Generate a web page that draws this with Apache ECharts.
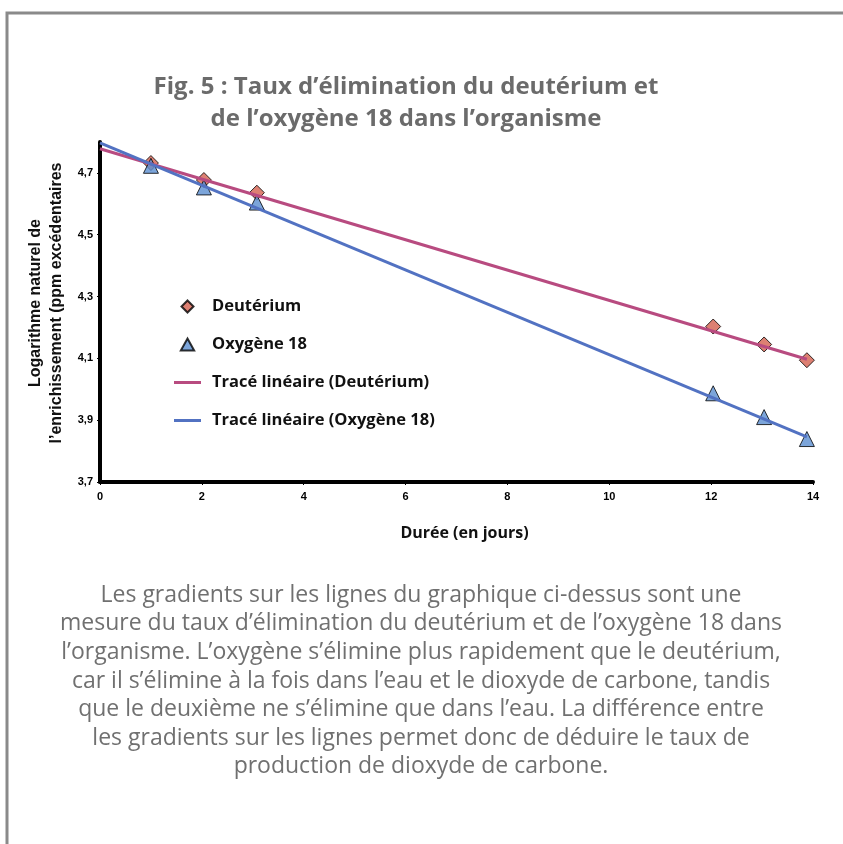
<!DOCTYPE html>
<html>
<head>
<meta charset="utf-8">
<script src="https://cdn.jsdelivr.net/npm/echarts@6/dist/echarts.min.js"></script>
<style>
html,body{margin:0;padding:0;background:#fff;}
#chart{width:843px;height:844px;}
</style>
</head>
<body>
<div id="chart"></div>
<script>
// ---- data ----
const days = [1.0, 2.04, 3.08, 12.04, 13.04, 13.88];
const deuterium = [4.732, 4.677, 4.636, 4.203, 4.145, 4.094];
const oxygen18 = [4.723, 4.653, 4.604, 3.987, 3.910, 3.839];
const deutTrendX = [0, 13.88];
const deutTrendY = [4.778, 4.097];
const oxyTrendX = [0, 13.88];
const oxyTrendY = [4.797, 3.846];
const seriesNames = ['Deutérium', 'Oxygène 18', 'Tracé linéaire (Deutérium)', 'Tracé linéaire (Oxygène 18)'];
const titleText = 'Fig. 5 : Taux d\u2019élimination du deutérium et\nde l\u2019oxygène 18 dans l\u2019organisme';
const xAxisName = 'Durée (en jours)';
const yAxisName = 'Logarithme naturel de\nl\u2019enrichissement (ppm excédentaires';
const paragraph = [
  'Les gradients sur les lignes du graphique ci-dessus sont une',
  'mesure du taux d\u2019élimination du deutérium et de l\u2019oxygène 18 dans',
  'l\u2019organisme. L\u2019oxygène s\u2019élimine plus rapidement que le deutérium,',
  'car il s\u2019élimine à la fois dans l\u2019eau et le dioxyde de carbone, tandis',
  'que le deuxième ne s\u2019élimine que dans l\u2019eau. La différence entre',
  'les gradients sur les lignes permet donc de déduire le taux de',
  'production de dioxyde de carbone.'
];

const pair = (xs, ys) => xs.map((x, i) => [x, ys[i]]);

const diamondIcon = 'path://M0,-1 L1,0 L0,1 L-1,0 Z';
const triangleIcon = 'path://M0,-1 L1,0.8 L-1,0.8 Z';
const lineIcon = 'path://M0,0 L27,0 L27,3 L0,3 Z';

const chart = echarts.init(document.getElementById('chart'), null, {renderer: 'canvas'});
chart.setOption({
  animation: false,
  backgroundColor: '#ffffff',
  title: {
    text: titleText,
    left: 401,
    top: 66,
    textAlign: 'center',
    textStyle: {
      fontFamily: 'Open Sans',
      fontWeight: 'bold',
      fontSize: 24,
      lineHeight: 32,
      color: '#6b6b6b',
      align: 'center'
    }
  },
  graphic: [
    {
      type: 'rect',
      shape: {x: 7, y: 13, width: 1000, height: 1000},
      style: {fill: 'none', stroke: '#8a8a8a', lineWidth: 3},
      silent: true
    },
    {
      type: 'text',
      x: 421,
      y: 581,
      style: {
        text: paragraph.join('\n'),
        fontFamily: 'Open Sans',
        fontSize: 23,
        lineHeight: 28.6,
        fill: '#707070',
        align: 'center'
      }
    }
  ],
  legend: {
    orient: 'vertical',
    left: 169,
    top: 293,
    itemWidth: 27,
    itemHeight: 12,
    itemGap: 21,
    symbolKeepAspect: true,
    data: [
      {name: seriesNames[0], icon: diamondIcon},
      {name: seriesNames[1], icon: triangleIcon},
      {name: seriesNames[2], icon: lineIcon},
      {name: seriesNames[3], icon: lineIcon}
    ],
    textStyle: {
      fontFamily: 'Open Sans',
      fontWeight: 'bold',
      fontSize: 16.5,
      color: '#111',
      padding: [0, 0, 0, 6]
    }
  },
  grid: {left: 100, right: 30, top: 142, bottom: 362, containLabel: false},
  xAxis: {
    type: 'value',
    min: 0, max: 14, interval: 2,
    name: xAxisName,
    nameLocation: 'middle',
    nameGap: 43,
    nameTextStyle: {fontFamily: 'Open Sans', fontWeight: 'bold', fontSize: 16, color: '#111', padding: [0, 0, 0, 16]},
    axisLine: {show: true, onZero: false, lineStyle: {color: '#000', width: 4}},
    axisTick: {show: true, inside: false, length: 3, lineStyle: {color: '#000', width: 1}},
    axisLabel: {fontFamily: 'Liberation Sans', fontWeight: 'bold', fontSize: 11, color: '#000', margin: 9},
    splitLine: {show: false}
  },
  yAxis: {
    type: 'value',
    min: 3.7, max: 4.8, interval: 0.2,
    name: yAxisName,
    nameLocation: 'middle',
    nameRotate: 90,
    nameGap: 24,
    nameTextStyle: {fontFamily: 'Liberation Sans', fontWeight: 'bold', fontSize: 16, color: '#111', lineHeight: 21, padding: [0, 0, 0, 18]},
    axisLine: {show: true, onZero: false, lineStyle: {color: '#000', width: 4}},
    axisTick: {show: true, inside: false, length: 3, lineStyle: {color: '#000', width: 1}},
    axisLabel: {
      fontFamily: 'Liberation Sans', fontWeight: 'bold', fontSize: 11, color: '#000', margin: 7,
      showMaxLabel: false,
      formatter: v => v.toFixed(1).replace('.', ',')
    },
    splitLine: {show: false}
  },
  series: [
    {
      name: seriesNames[0],
      type: 'scatter',
      data: pair(days, deuterium),
      symbol: 'diamond',
      symbolSize: 15,
      itemStyle: {color: '#d4604f', borderColor: '#000', borderWidth: 1},
      z: 2
    },
    {
      name: seriesNames[1],
      type: 'scatter',
      data: pair(days, oxygen18),
      symbol: 'triangle',
      symbolSize: 15,
      itemStyle: {color: '#5b8fd1', borderColor: '#000', borderWidth: 1},
      z: 2
    },
    {
      name: seriesNames[2],
      type: 'line',
      data: pair(deutTrendX, deutTrendY),
      symbol: 'none',
      lineStyle: {color: '#b84b80', width: 3},
      itemStyle: {color: '#b84b80', borderWidth: 0},
      z: 3
    },
    {
      name: seriesNames[3],
      type: 'line',
      data: pair(oxyTrendX, oxyTrendY),
      symbol: 'none',
      lineStyle: {color: '#5272c2', width: 3},
      itemStyle: {color: '#5272c2', borderWidth: 0},
      z: 3
    }
  ]
});
</script>
</body>
</html>
